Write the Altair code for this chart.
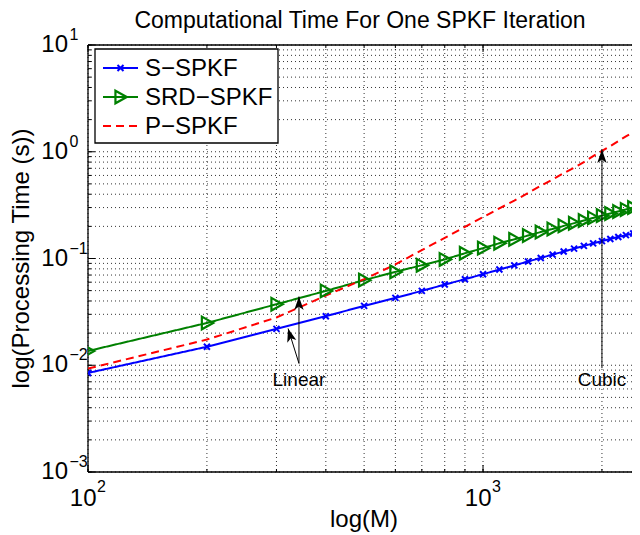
import altair as alt
import pandas as pd

# ---------------- data ----------------
M = [100, 200, 300, 400, 500, 600, 700, 800, 900, 1000, 1100, 1200, 1300,
     1400, 1500, 1600, 1700, 1800, 1900, 2000, 2100, 2200, 2300, 2400, 2500]
S_SPKF = [0.00847, 0.0149, 0.0219, 0.0288, 0.0360, 0.0428, 0.0497, 0.0570,
          0.0640, 0.0713, 0.0788, 0.0862, 0.0938, 0.1012, 0.1088, 0.1162,
          0.1238, 0.1312, 0.1385, 0.1455, 0.1525, 0.1592, 0.1655, 0.1715, 0.1770]
SRD_SPKF = [0.0136, 0.0249, 0.0373, 0.0497, 0.0627, 0.0749, 0.0865, 0.0980,
            0.1120, 0.1250, 0.139, 0.151, 0.164, 0.177, 0.189, 0.202, 0.214,
            0.227, 0.240, 0.252, 0.264, 0.276, 0.288, 0.300, 0.312]
P_SPKF = [0.0093, 0.0174, 0.0280, 0.0450, 0.0640, 0.0880, 0.1200, 0.1560,
          0.1980, 0.2440, 0.2950, 0.3480, 0.4100, 0.4800, 0.5500, 0.6300,
          0.7100, 0.8000, 0.9100, 1.0200, 1.1300, 1.2600, 1.3900, 1.5200, 1.6600]

SERIES = ["S\u2212SPKF", "SRD\u2212SPKF", "P\u2212SPKF"]
COLORS = ["#0000ff", "#008000", "#ff0000"]

TITLE = "Computational Time For One SPKF Iteration"
X_TITLE = "log(M)"
Y_TITLE = "log(Processing Time (s))"

X_GRID = [100, 200, 300, 400, 500, 600, 700, 800, 900, 1000, 2000]
Y_GRID = [0.001, 0.002, 0.003, 0.004, 0.005, 0.006, 0.007, 0.008, 0.009,
          0.01, 0.02, 0.03, 0.04, 0.05, 0.06, 0.07, 0.08, 0.09,
          0.1, 0.2, 0.3, 0.4, 0.5, 0.6, 0.7, 0.8, 0.9,
          1, 2, 3, 4, 5, 6, 7, 8, 9, 10]
X_MAJOR = [100, 1000]
X_EXP = ["2", "3"]
Y_MAJOR = [0.001, 0.01, 0.1, 1, 10]
Y_EXP = ["\u22123", "\u22122", "\u22121", "0", "1"]

ANNOT_TEXT = ["Linear", "Cubic"]
ANNOT_X = [342, 2000]
ANNOT_Y = [0.0072, 0.0072]
ARROW_X1 = [342, 342, 2000]
ARROW_Y1 = [0.0104, 0.0104, 0.0094]
ARROW_X2 = [342, 321, 2000]
ARROW_Y2 = [0.044, 0.0221, 1.05]
ARROW_ANGLE = [0, 344, 0]

# ---------------- geometry / styles ----------------
W, H = 544, 427
FONT = "Liberation Sans"
xs = alt.Scale(type="log", domain=[100, 2383], nice=False)
ys = alt.Scale(type="log", domain=[0.001, 10], nice=False)
X_MARK = "M-1,-1L1,1M-1,1L1,-1"
TRI = "M-0.8,-1L1,0L-0.8,1Z"
HEAD = "M0,0L0.7,2L0,1.5L-0.7,2Z"
one = pd.DataFrame({"d": [0]})

df = pd.concat([
    pd.DataFrame({"M": M, "t": vals, "series": name})
    for name, vals in zip(SERIES, [S_SPKF, SRD_SPKF, P_SPKF])
])

X = lambda f: alt.X(f, type="quantitative", scale=xs, axis=None)
Y = lambda f: alt.Y(f, type="quantitative", scale=ys, axis=None)

layers = []

# grid
layers.append(alt.Chart(pd.DataFrame({"v": X_GRID})).mark_rule(
    color="#000", strokeWidth=1, strokeDash=[1, 3], opacity=0.8).encode(x=X("v")))
layers.append(alt.Chart(pd.DataFrame({"v": Y_GRID})).mark_rule(
    color="#000", strokeWidth=1, strokeDash=[1, 3], opacity=0.8).encode(y=Y("v")))

# inside ticks
xminor = pd.DataFrame({"v": X_GRID})
yminor = pd.DataFrame({"v": Y_GRID})
layers.append(alt.Chart(xminor).mark_rule(color="#000").encode(
    x=X("v"), y=alt.value(H), y2=alt.value(H - 3)))
layers.append(alt.Chart(xminor).mark_rule(color="#000").encode(
    x=X("v"), y=alt.value(0), y2=alt.value(3)))
layers.append(alt.Chart(pd.DataFrame({"v": X_MAJOR})).mark_rule(color="#000").encode(
    x=X("v"), y=alt.value(H), y2=alt.value(H - 7)))
layers.append(alt.Chart(pd.DataFrame({"v": X_MAJOR})).mark_rule(color="#000").encode(
    x=X("v"), y=alt.value(0), y2=alt.value(7)))
layers.append(alt.Chart(yminor).mark_rule(color="#000").encode(
    y=Y("v"), x=alt.value(0), x2=alt.value(3)))
layers.append(alt.Chart(pd.DataFrame({"v": Y_MAJOR})).mark_rule(color="#000").encode(
    y=Y("v"), x=alt.value(0), x2=alt.value(7)))

# box (left, bottom, top)
layers.append(alt.Chart(one).mark_rule(color="#000", strokeWidth=1.3).encode(
    x=alt.value(0), y=alt.value(0), y2=alt.value(H)))
layers.append(alt.Chart(one).mark_rule(color="#000", strokeWidth=1.3).encode(
    x=alt.value(0), x2=alt.value(W), y=alt.value(H)))
layers.append(alt.Chart(one).mark_rule(color="#000", strokeWidth=1.3).encode(
    x=alt.value(0), x2=alt.value(W), y=alt.value(0)))

# series lines
layers.append(alt.Chart(df).mark_line(clip=True, strokeWidth=2).encode(
    x=X("M"), y=Y("t"),
    color=alt.Color("series:N", scale=alt.Scale(domain=SERIES, range=COLORS), legend=None),
    strokeDash=alt.StrokeDash("series:N", scale=alt.Scale(domain=SERIES, range=[[1, 0], [1, 0], [8, 5]]), legend=None),
    order="M:Q"))

# markers
layers.append(alt.Chart(df[df.series == SERIES[0]]).mark_point(
    clip=True, shape=X_MARK, size=36, filled=False, color=COLORS[0], strokeWidth=2, opacity=1).encode(
    x=X("M"), y=Y("t")))
layers.append(alt.Chart(df[df.series == SERIES[1]]).mark_point(
    clip=True, shape=TRI, size=160, filled=False, color=COLORS[1], strokeWidth=2.2, opacity=1).encode(
    x=X("M"), y=Y("t")))

# legend
LX0, LX1 = 15, 50
LY = [23, 52, 81]
layers.append(alt.Chart(one).mark_rect(fill="white", stroke="#000", strokeWidth=1.3).encode(
    x=alt.value(7), x2=alt.value(190), y=alt.value(4), y2=alt.value(98)))
for i, name in enumerate(SERIES):
    dash = [8, 5] if i == 2 else [1, 0]
    layers.append(alt.Chart(one).mark_rule(color=COLORS[i], strokeWidth=2, strokeDash=dash).encode(
        x=alt.value(LX0), x2=alt.value(LX1), y=alt.value(LY[i])))
    layers.append(alt.Chart(one).mark_text(
        align="left", baseline="middle", font=FONT, fontSize=24, color="#000").encode(
        x=alt.value(57), y=alt.value(LY[i] + 1), text=alt.value(name)))
layers.append(alt.Chart(one).mark_point(
    shape=X_MARK, size=36, filled=False, color=COLORS[0], strokeWidth=2, opacity=1).encode(
    x=alt.value((LX0 + LX1) / 2), y=alt.value(LY[0])))
layers.append(alt.Chart(one).mark_point(
    shape=TRI, size=160, filled=False, color=COLORS[1], strokeWidth=2.2, opacity=1).encode(
    x=alt.value((LX0 + LX1) / 2), y=alt.value(LY[1])))

# annotations
arrows = pd.DataFrame({"x1": ARROW_X1, "y1": ARROW_Y1, "x2": ARROW_X2,
                       "y2": ARROW_Y2, "ang": ARROW_ANGLE})
layers.append(alt.Chart(arrows).mark_rule(color="#000", strokeWidth=1).encode(
    x=X("x1"), y=Y("y1"), x2="x2:Q", y2="y2:Q"))
layers.append(alt.Chart(arrows).mark_point(
    shape=HEAD, size=180, filled=True, color="#000", opacity=1).encode(
    x=X("x2"), y=Y("y2"), angle=alt.Angle("ang:Q", scale=None)))
layers.append(alt.Chart(pd.DataFrame({"x": ANNOT_X, "y": ANNOT_Y, "t": ANNOT_TEXT})).mark_text(
    align="center", baseline="middle", font=FONT, fontSize=19, color="#000").encode(
    x=X("x"), y=Y("y"), text="t:N"))

# tick labels
xl = pd.DataFrame({"v": X_MAJOR, "e": X_EXP})
layers.append(alt.Chart(xl).mark_text(align="right", baseline="alphabetic", dx=8.5,
                                      font=FONT, fontSize=24, color="#000").encode(
    x=X("v"), y=alt.value(H + 34), text=alt.value("10")))
layers.append(alt.Chart(xl).mark_text(align="left", baseline="alphabetic", dx=9,
                                      font=FONT, fontSize=16, color="#000").encode(
    x=X("v"), y=alt.value(H + 20), text="e:N"))
yl = pd.DataFrame({"v": Y_MAJOR, "e": Y_EXP})
layers.append(alt.Chart(yl).mark_text(align="right", baseline="middle",
                                      font=FONT, fontSize=24, color="#000").encode(
    y=Y("v"), x=alt.value(-20), text=alt.value("10")))
layers.append(alt.Chart(yl).mark_text(align="left", baseline="middle", dy=-10,
                                      font=FONT, fontSize=16, color="#000").encode(
    y=Y("v"), x=alt.value(-18.5), text="e:N"))

# titles
layers.append(alt.Chart(pd.DataFrame({"t": [TITLE]})).mark_text(
    align="center", baseline="alphabetic", font=FONT, fontSize=23, color="#000").encode(
    x=alt.value(272), y=alt.value(-17), text="t:N"))
layers.append(alt.Chart(pd.DataFrame({"t": [X_TITLE]})).mark_text(
    align="center", baseline="alphabetic", font=FONT, fontSize=24, color="#000").encode(
    x=alt.value(276), y=alt.value(H + 55), text="t:N"))
layers.append(alt.Chart(pd.DataFrame({"t": [Y_TITLE]})).mark_text(
    align="center", baseline="middle", angle=270, font=FONT, fontSize=24, color="#000").encode(
    x=alt.value(-66), y=alt.value(H / 2), text="t:N"))

chart = alt.layer(*layers).properties(
    width=W, height=H,
    padding={"left": 80, "top": 37, "right": 0, "bottom": 60},
    autosize=alt.AutoSizeParams(type="none"),
    background="white",
).configure_view(stroke=None)

chart.save("out.html", embed_options={"renderer": "svg", "actions": False})
